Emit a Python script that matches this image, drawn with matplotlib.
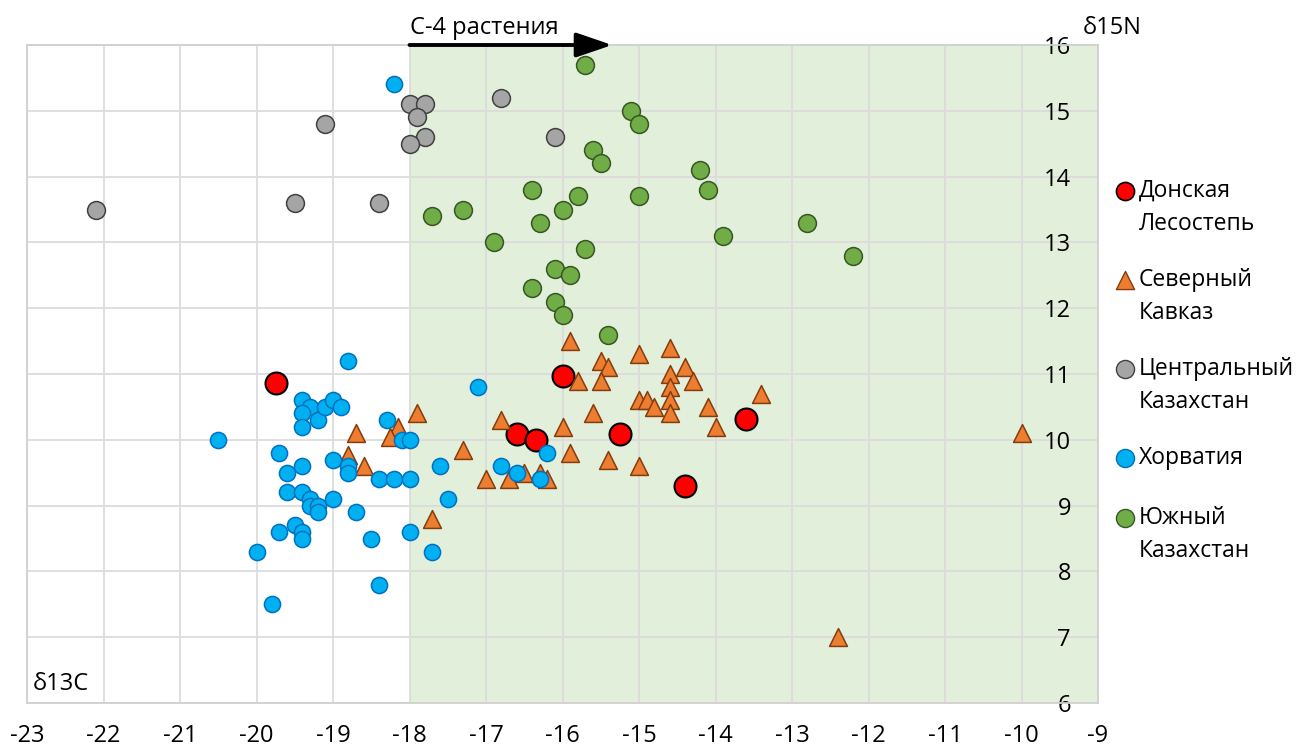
import matplotlib
matplotlib.use("Agg")
import matplotlib.pyplot as plt

plt.rcParams['font.family'] = ['Open Sans', 'DejaVu Sans']
plt.rcParams['axes.unicode_minus'] = False

# ---- data ----
don_x = [-19.75, -16.0, -16.6, -16.35, -15.25, -13.6, -14.4]
don_y = [10.86, 10.97, 10.09, 10.0, 10.09, 10.32, 9.3]

kav_x = [-15.9, -15.5, -15.4, -15.0, -14.6, -14.4, -15.8, -15.5, -14.6, -14.3,
         -14.6, -13.4, -15.0, -14.9, -14.8, -14.6, -14.6, -14.1, -14.0, -17.9,
         -16.8, -15.6, -16.0, -17.3, -15.9, -15.4, -15.0, -17.0, -16.7, -16.5,
         -16.3, -16.2, -17.7, -18.7, -18.15, -18.25, -18.8, -18.6, -10.0, -12.4]
kav_y = [11.5, 11.2, 11.1, 11.3, 11.4, 11.1, 10.9, 10.9, 11.0, 10.9,
         10.8, 10.7, 10.6, 10.6, 10.5, 10.6, 10.4, 10.5, 10.2, 10.4,
         10.3, 10.4, 10.2, 9.85, 9.8, 9.7, 9.6, 9.4, 9.4, 9.5,
         9.5, 9.4, 8.8, 10.1, 10.2, 10.05, 9.77, 9.6, 10.1, 7.0]

ckz_x = [-22.1, -19.5, -18.4, -19.1, -18.0, -17.8, -17.9, -17.8, -18.0, -16.8, -16.1]
ckz_y = [13.5, 13.6, 13.6, 14.8, 15.1, 15.1, 14.9, 14.6, 14.5, 15.2, 14.6]

hor_x = [-18.8, -20.5, -19.4, -19.3, -19.4, -19.4, -19.2, -19.1, -19.0, -18.9,
         -18.3, -18.1, -18.0, -19.7, -19.6, -19.4, -19.0, -18.8, -18.8, -19.6,
         -19.4, -19.3, -19.3, -19.2, -19.2, -19.0, -18.7, -18.4, -18.2, -18.0,
         -19.7, -19.5, -19.4, -19.4, -20.0, -18.5, -18.0, -18.4, -19.8, -18.2,
         -17.1, -17.6, -17.5, -17.7, -16.8, -16.6, -16.2, -16.3]
hor_y = [11.2, 10.0, 10.6, 10.5, 10.4, 10.2, 10.3, 10.5, 10.6, 10.5,
         10.3, 10.0, 10.0, 9.8, 9.5, 9.6, 9.7, 9.6, 9.5, 9.2,
         9.2, 9.1, 9.0, 9.0, 8.9, 9.1, 8.9, 9.4, 9.4, 9.4,
         8.6, 8.7, 8.6, 8.5, 8.3, 8.5, 8.6, 7.8, 7.5, 15.4,
         10.8, 9.6, 9.1, 8.3, 9.6, 9.5, 9.8, 9.4]

ukz_x = [-15.7, -15.1, -15.0, -15.6, -15.5, -14.2, -14.1, -16.4, -15.8, -15.0,
         -16.0, -17.3, -17.7, -16.3, -12.8, -13.9, -16.9, -15.7, -12.2, -16.1,
         -15.9, -16.4, -16.1, -16.0, -15.4]
ukz_y = [15.7, 15.0, 14.8, 14.4, 14.2, 14.1, 13.8, 13.8, 13.7, 13.7,
         13.5, 13.5, 13.4, 13.3, 13.3, 13.1, 13.0, 12.9, 12.8, 12.6,
         12.5, 12.3, 12.1, 11.9, 11.6]

labels = ['Донская\nЛесостепь', 'Северный\nКавказ', 'Центральный\nКазахстан',
          'Хорватия', 'Южный\nКазахстан']
x_ticks = list(range(-23, -8))
y_ticks = list(range(6, 17))

# ---- figure ----
W, H = 1298, 747
fig = plt.figure(figsize=(W / 100, H / 100), dpi=100)
L, R, T, B = 27, 1098, 45, 703
ax = fig.add_axes([L / W, 1 - B / H, (R - L) / W, (B - T) / H])
ax.set_xlim(-23, -9)
ax.set_ylim(6, 16)

ax.axvspan(-18, -9, color='#E2EFDA', zorder=0, lw=0)
ax.set_xticks(x_ticks)
ax.set_yticks(y_ticks)
ax.grid(True, color='#DCDCDC', lw=1.3, zorder=1)
for s in ax.spines.values():
    s.set_color('#D0D0D0')
    s.set_linewidth(1.3)

ax.tick_params(axis='both', length=0, labelsize=17, colors='black')
ax.tick_params(axis='x', pad=15)
ax.yaxis.tick_right()
ax.tick_params(axis='y', pad=-19.5)
for lab in ax.get_yticklabels():
    lab.set_ha('right')

ax.scatter(don_x, don_y, s=250, marker='o', facecolor='#FF0000', edgecolor='black', linewidth=1.5, zorder=3)
ax.scatter(kav_x, kav_y, s=165, marker='^', facecolor='#ED7D31', edgecolor='#843C0C', linewidth=1.1, zorder=4)
ax.scatter(ckz_x, ckz_y, s=165, marker='o', facecolor='#A5A5A5', edgecolor='#404040', linewidth=1.1, zorder=5)
ax.scatter(hor_x, hor_y, s=135, marker='o', facecolor='#00B0F0', edgecolor='#0070C0', linewidth=1.1, zorder=6)
ax.scatter(ukz_x, ukz_y, s=165, marker='o', facecolor='#70AD47', edgecolor='#375623', linewidth=1.1, zorder=7)

# arrow and annotations
ax.annotate('', xy=(-15.35, 16), xytext=(-18, 16), xycoords='data',
            arrowprops=dict(arrowstyle='-|>,head_length=2.2,head_width=0.75', color='black', lw=2.8,
                            shrinkA=0, shrinkB=0), annotation_clip=False, zorder=8)
ax.text(-18, 16.26, 'С-4 растения', fontsize=17, ha='left', va='center')
ax.text(-9.2, 16.26, 'δ15N', fontsize=17, ha='left', va='center')
ax.text(-22.93, 6.1, 'δ13C', fontsize=17, ha='left', va='bottom', zorder=9)

# legend (manual)
lg = fig.add_axes([0, 0, 1, 1], facecolor='none')
lg.set_xlim(0, W)
lg.set_ylim(H, 0)
lg.axis('off')
leg_styles = [('o', '#FF0000', 'black', 1.2, 170),
              ('^', '#ED7D31', '#843C0C', 1.0, 170),
              ('o', '#A5A5A5', '#404040', 1.0, 170),
              ('o', '#00B0F0', '#0070C0', 1.0, 170),
              ('o', '#70AD47', '#375623', 1.0, 170)]
leg_y = [191, 280, 369, 458, 518]
for (m, fc, ec, lw, s), yy, lab in zip(leg_styles, leg_y, labels):
    lg.scatter([1125], [yy], s=s, marker=m, facecolor=fc, edgecolor=ec, linewidth=lw)
    for i, line in enumerate(lab.split('\n')):
        lg.text(1139, yy + 33 * i, line, fontsize=16.5, ha='left', va='center')

fig.savefig('out.png', dpi=100)
